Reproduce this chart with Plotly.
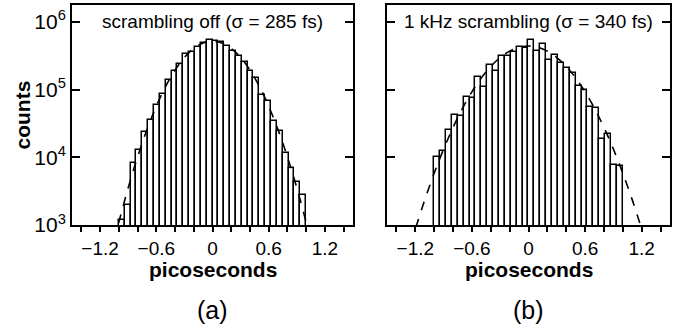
import plotly.graph_objects as go

# ---- data ----
BIN_START = -1.0
BIN_WIDTH = 0.0625

counts_a = [1.2e3, 2.0e3, 8.2e3, 1.29e4, 2.4e4, 3.5e4, 5.9e4, 8.7e4,
            1.38e5, 1.9e5, 2.38e5, 3.4e5, 3.6e5, 4.3e5, 4.9e5, 5.4e5,
            5.2e5, 5.0e5, 4.45e5, 3.73e5, 3.15e5, 2.6e5, 1.86e5, 1.46e5,
            8.3e4, 6.7e4, 3.4e4, 2.46e4, 1.16e4, 6.9e3, 4.3e3, 2.8e3]

counts_b = [1.0e4, 1.22e4, 2.57e4, 4.2e4, 4.1e4, 7.9e4, 7.4e4, 1.56e5,
            1.11e5, 2.33e5, 1.86e5, 3.16e5, 3.1e5, 3.56e5, 4.3e5, 4.1e5,
            5.4e5, 3.7e5, 4.8e5, 2.76e5, 3.27e5, 2.46e5, 2.08e5, 1.76e5,
            1.12e5, 1.0e5, 5.5e4, 5.3e4, 1.86e4, 2.2e4, 7.6e3, 7.4e3]

fit_x_a = [-1.05, -1.0, -0.9, -0.8, -0.7, -0.6, -0.5, -0.4, -0.3, -0.2, -0.1, 0.0,
           0.1, 0.2, 0.3, 0.4, 0.5, 0.6, 0.7, 0.8, 0.9, 1.0, 1.05]
fit_y_a = [587, 1.10e3, 3.55e3, 1.01e4, 2.55e4, 5.67e4, 1.12e5, 1.94e5, 2.99e5, 4.06e5, 4.89e5, 5.2e5,
           4.89e5, 4.06e5, 2.99e5, 1.94e5, 1.12e5, 5.67e4, 2.55e4, 1.01e4, 3.55e3, 1.10e3, 587]

fit_x_b = [-1.25, -1.2, -1.1, -1.0, -0.9, -0.8, -0.7, -0.6, -0.5, -0.4, -0.3, -0.2, -0.1, 0.0,
           0.1, 0.2, 0.3, 0.4, 0.5, 0.6, 0.7, 0.8, 0.9, 1.0, 1.1, 1.2, 1.25]
fit_y_b = [511, 868, 2.35e3, 5.82e3, 1.32e4, 2.76e4, 5.28e4, 9.27e4, 1.49e5, 2.20e5, 2.98e5, 3.70e5, 4.21e5, 4.40e5,
           4.21e5, 3.70e5, 2.98e5, 2.20e5, 1.49e5, 9.27e4, 5.28e4, 2.76e4, 1.32e4, 5.82e3, 2.35e3, 868, 511]

x_tickvals = [-1.2, -0.6, 0.0, 0.6, 1.2]
x_ticktext = ["\u22121.2", "\u22120.6", "0", "0.6", "1.2"]
x_minor_step = 0.2
y_tickvals = [1e3, 1e4, 1e5, 1e6]
y_ticktext = ["10<sup>3</sup>", "10<sup>4</sup>", "10<sup>5</sup>", "10<sup>6</sup>"]

panel_titles = ["scrambling off (\u03c3 = 285 fs)", "1 kHz scrambling (\u03c3 = 340 fs)"]
panel_labels = ["(a)", "(b)"]

centers = [BIN_START + BIN_WIDTH * (i + 0.5) for i in range(len(counts_a))]

FONT = "Liberation Sans, Arial, sans-serif"

fig = go.Figure()
for i, (cnt, fx, fy) in enumerate([(counts_a, fit_x_a, fit_y_a), (counts_b, fit_x_b, fit_y_b)]):
    xa = "x" if i == 0 else "x2"
    ya = "y" if i == 0 else "y2"
    fig.add_trace(go.Bar(x=centers, y=cnt, width=BIN_WIDTH, xaxis=xa, yaxis=ya,
                         marker=dict(color="white", line=dict(color="black", width=1.5)),
                         showlegend=False))
    fig.add_trace(go.Scatter(x=fx, y=fy, mode="lines", xaxis=xa, yaxis=ya,
                             line=dict(color="black", width=1.6, dash="dash", shape="spline"),
                             showlegend=False))

xcommon = dict(range=[-1.5, 1.5], tickmode="array", tickvals=x_tickvals, ticktext=x_ticktext,
               ticks="outside", ticklen=5, tickwidth=1.5, tickcolor="black",
               minor=dict(dtick=x_minor_step, tick0=0, ticks="outside", ticklen=5, tickwidth=1.5,
                          tickcolor="black", showgrid=False),
               showline=True, linecolor="black", linewidth=2, mirror=True,
               showgrid=False, zeroline=False,
               tickfont=dict(family=FONT, size=19, color="black"))
ycommon = dict(type="log", range=[3, 6.25], tickmode="array", tickvals=y_tickvals, ticktext=y_ticktext,
               ticks="inside", ticklen=8, tickwidth=1.5, tickcolor="black",
               showline=True, linecolor="black", linewidth=2, mirror="ticks",
               showgrid=False, zeroline=False,
               tickfont=dict(family=FONT, size=21, color="black"))

fig.update_layout(
    width=682, height=332,
    margin=dict(l=72, r=12, t=3, b=107),
    paper_bgcolor="white", plot_bgcolor="white",
    bargap=0,
    xaxis=dict(domain=[0, 0.4699], anchor="y", **xcommon),
    xaxis2=dict(domain=[0.5268, 1.0], anchor="y2", **xcommon),
    yaxis=dict(domain=[0, 1], anchor="x", **ycommon),
    yaxis2=dict(domain=[0, 1], anchor="x2", showticklabels=False, **ycommon),
)

annos = []
for i in range(2):
    xref = "x domain" if i == 0 else "x2 domain"
    annos.append(dict(text=panel_titles[i], xref=xref, yref="paper", x=0.5, y=(225 - 20) / 222,
                      showarrow=False, xanchor="center", yanchor="middle",
                      font=dict(family=FONT, size=19, color="black")))
    annos.append(dict(text="<b>picoseconds</b>", xref=xref, yref="paper", x=0.5, y=(225 - 270) / 222,
                      showarrow=False, xanchor="center", yanchor="middle",
                      font=dict(family=FONT, size=21, color="black")))
    annos.append(dict(text=panel_labels[i], xref=xref, yref="paper", x=0.5, y=(225 - 311) / 222,
                      showarrow=False, xanchor="center", yanchor="middle",
                      font=dict(family=FONT, size=25, color="black")))
annos.append(dict(text="<b>counts</b>", xref="paper", yref="paper", x=(21.5 - 72) / 598, y=0.5,
                  textangle=-90, showarrow=False, xanchor="center", yanchor="middle",
                  font=dict(family=FONT, size=21, color="black")))
fig.update_layout(annotations=annos)

fig.write_html("out.html")
